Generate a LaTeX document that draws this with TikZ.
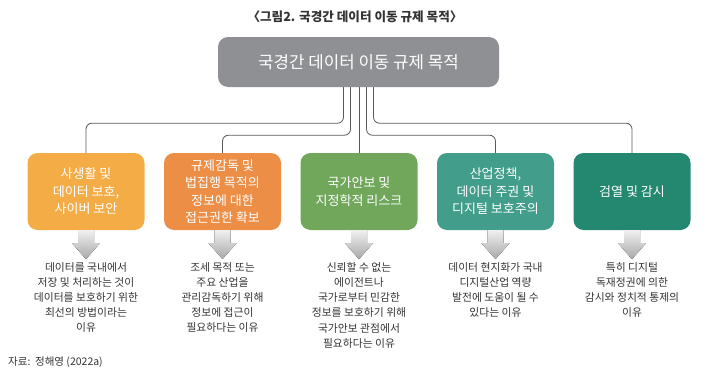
\documentclass[tikz,border=0pt]{standalone}
\usepackage{fontspec}
\setmainfont{Noto Sans CJK KR}
\usepackage{xcolor}
\usepackage{tikz}
\usetikzlibrary{positioning,calc}
\definecolor{tg}{HTML}{8F9093}
\definecolor{ca}{HTML}{F4AD46}
\definecolor{cb}{HTML}{EC8E46}
\definecolor{cc}{HTML}{70A75B}
\definecolor{cd}{HTML}{429D8A}
\definecolor{ce}{HTML}{248870}
\definecolor{ln}{HTML}{5A5A5A}
\definecolor{tx}{HTML}{333333}
\tikzset{
  topbox/.style={fill=tg, rounded corners=10pt, text=white, minimum width=281pt, minimum height=50pt,
    font=\fontsize{16.8}{19}\selectfont},
  goalbox/.style={rounded corners=10pt, text=white, minimum width=117pt, minimum height=77pt,
    align=center, inner sep=0pt, font=\fontsize{13}{17.5}\selectfont},
  why/.style={anchor=north, align=center, inner sep=0pt, text=tx, font=\fontsize{10.8}{15.2}\selectfont},
  conn/.style={draw=ln, line width=0.8pt, rounded corners=6pt},
  downarr/.style={top color=gray!12, bottom color=gray!68, draw=none}
}

\begin{document}
\begin{tikzpicture}[x=1pt,y=-1pt]
  \useasboundingbox (0,0) rectangle (707,380);
  \node[font=\fontsize{12.6}{14}\selectfont\bfseries, text=tx] (ttl) at (355,17) {〈그림2. 국경간 데이터 이동 규제 목적〉};
  \node[topbox] (top) at (358.5,62) {국경간 데이터 이동 규제 목적};

  \node[goalbox, fill=ca] (b1) at (86,191.5) {사생활 및\\데이터 보호,\\사이버 보안};
  \node[goalbox, fill=cb] (b2) at (222.5,191.5) {규제감독 및\\법집행 목적의\\정보에 대한\\접근권한 확보};
  \node[goalbox, fill=cc] (b3) at (359,191.5) {국가안보 및\\지정학적 리스크};
  \node[goalbox, fill=cd] (b4) at (495.5,191.5) {산업정책,\\데이터 주권 및\\디지털 보호주의};
  \node[goalbox, fill=ce] (b5) at (632,191.5) {검열 및 감시};

  % connectors from the top box
  \draw[conn] ([xshift=-15pt]top.south) -- ++(0,36) -| (b1.north);
  \draw[conn] ([xshift=-8pt]top.south) -- ++(0,48) -| (b2.north);
  \draw[conn] (top.south -| b3.north) -- (b3.north);
  \draw[conn] ([xshift=8pt]top.south) -- ++(0,48) -| (b4.north);
  \draw[conn] ([xshift=15pt]top.south) -- ++(0,36) -| (b5.north);

  \foreach \b in {b1,b2,b3,b4,b5}
    \fill[downarr] ([xshift=-8pt]\b.south) -- ++(0,13) -- ++(-6,0) -- ([yshift=-29pt]\b.south)
      -- ([shift={(14pt,-13pt)}]\b.south) -- ++(-6,0) -- ([xshift=8pt]\b.south) -- cycle;

  \node[why] (d1) at (86,262) {데이터를 국내에서\\저장 및 처리하는 것이\\데이터를 보호하기 위한\\최선의 방법이라는\\이유};
  \node[why] (d2) at (222.5,262) {조세 목적 또는\\주요 산업을\\관리감독하기 위해\\정보에 접근이\\필요하다는 이유};
  \node[why] (d3) at (359,262) {신뢰할 수 없는\\에이전트나\\국가로부터 민감한\\정보를 보호하기 위해\\국가안보 관점에서\\필요하다는 이유};
  \node[why] (d4) at (495.5,262) {데이터 현지화가 국내\\디지털산업 역량\\발전에 도움이 될 수\\있다는 이유};
  \node[why] (d5) at (632,262) {특히 디지털\\독재정권에 의한\\감시와 정치적 통제의\\이유};

  \node[anchor=west, inner sep=0pt, text=tx, font=\fontsize{10.5}{12}\selectfont] (src) at (8,362) {자료:\ \ 정해영 (2022a)};
\end{tikzpicture}
\end{document}
